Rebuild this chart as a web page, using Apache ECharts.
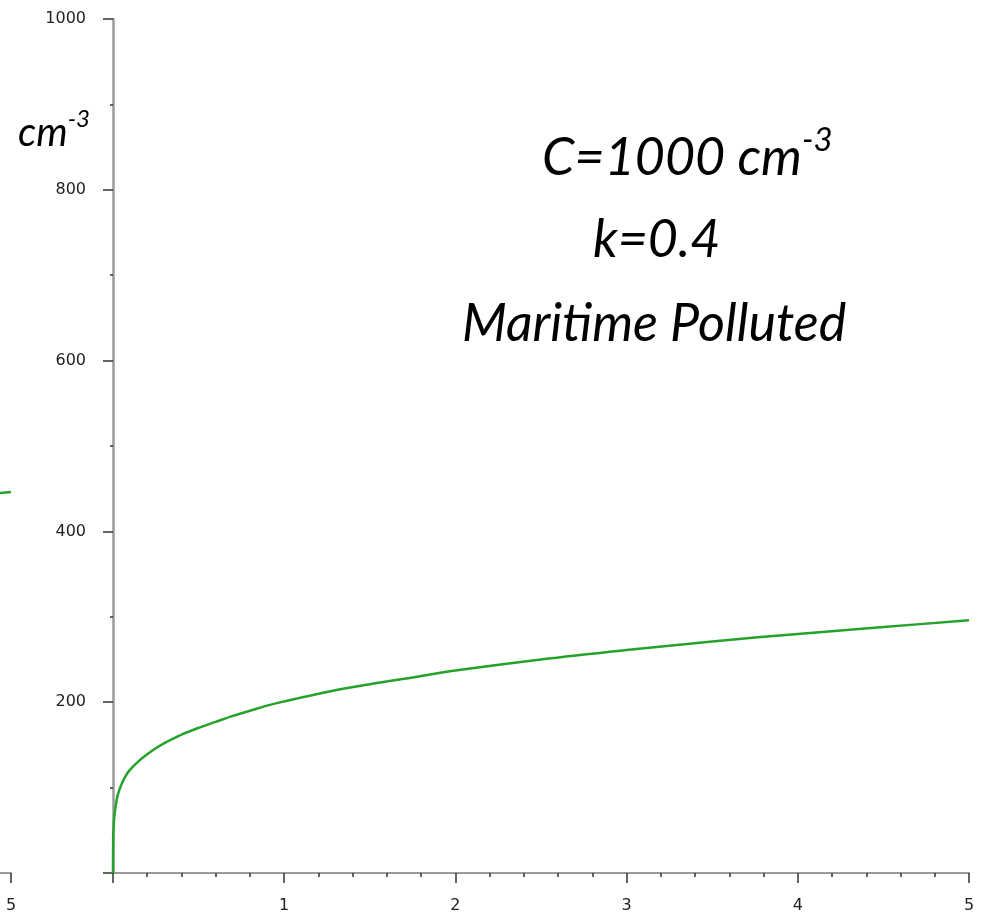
<!DOCTYPE html>
<html>
<head>
<meta charset="utf-8">
<script src="https://cdn.jsdelivr.net/npm/echarts@6/dist/echarts.min.js"></script>
<style>
  html, body { margin: 0; padding: 0; background: #fff; }
  #main { width: 991px; height: 915px; }
</style>
</head>
<body>
<div id="main"></div>
<script>
// supersaturation (%) vs. activated CCN (cm^-3)
var supersat = [0, 0.001, 0.003, 0.006, 0.01, 0.02, 0.03, 0.05, 0.075, 0.1, 0.15, 0.2, 0.25, 0.3, 0.4, 0.5, 0.6, 0.7, 0.8, 0.9, 1.0, 1.25, 1.5, 1.75, 2.0, 2.5, 3.0, 3.5, 4.0, 4.5, 5.0]
var ccn = [0, 40, 52, 62, 70, 84, 93, 104, 114, 121, 131, 139, 146, 152, 162, 170, 177, 184, 190, 196, 201, 212, 221, 229, 237, 250, 261, 271, 280, 288, 296]

// piece of the neighbouring panel that shows at the left edge
var leftX = [4.9, 5]
var leftY = [445, 446]

var xTicks = [0, 1, 2, 3, 4, 5]
var yTicks = [0, 200, 400, 600, 800, 1000]

var green = '#25a22b'
var axisGray = '#9a9a9a'
var tickDark = '#333'
var labelFont = { color: '#222', fontSize: 16, fontFamily: 'DejaVu Sans' }
var plain = function (v) { return String(v) }

var myChart = echarts.init(document.getElementById('main'))

myChart.setOption({
  animation: false,
  grid: [
    { left: 113, right: 22, top: 19, bottom: 42 },
    { left: 0, width: 11, top: 19, bottom: 42 }
  ],
  xAxis: [
    {
      type: 'value',
      gridIndex: 0,
      min: xTicks[0],
      max: xTicks[xTicks.length - 1],
      interval: 1,
      axisLine: { show: true, onZero: false, lineStyle: { color: axisGray, width: 2 } },
      axisTick: { show: true, length: 10, lineStyle: { color: tickDark, width: 1.5 } },
      minorTick: { show: true, splitNumber: 5, length: 4, lineStyle: { color: tickDark, width: 1.5 } },
      splitLine: { show: false },
      axisLabel: Object.assign({ margin: 25, showMinLabel: false, formatter: plain }, labelFont)
    },
    {
      type: 'value',
      gridIndex: 1,
      min: leftX[0],
      max: leftX[1],
      interval: 0.1,
      axisLine: { show: true, onZero: false, lineStyle: { color: axisGray, width: 2 } },
      axisTick: { show: true, length: 10, customValues: [5], lineStyle: { color: tickDark, width: 1.5 } },
      splitLine: { show: false },
      axisLabel: Object.assign({ margin: 25, customValues: [5], formatter: plain }, labelFont)
    }
  ],
  yAxis: [
    {
      type: 'value',
      gridIndex: 0,
      min: yTicks[0],
      max: yTicks[yTicks.length - 1],
      interval: 200,
      axisLine: { show: true, onZero: false, lineStyle: { color: axisGray, width: 2.5 } },
      axisTick: { show: true, length: 10, lineStyle: { color: tickDark, width: 1.5 } },
      minorTick: { show: true, splitNumber: 2, length: 3, lineStyle: { color: tickDark, width: 1.5 } },
      splitLine: { show: false },
      axisLabel: Object.assign({ margin: 27, showMinLabel: false, formatter: plain }, labelFont)
    },
    {
      type: 'value',
      gridIndex: 1,
      show: false,
      min: 0,
      max: 1000
    }
  ],
  series: [
    {
      type: 'line',
      xAxisIndex: 0,
      yAxisIndex: 0,
      smooth: 0.35,
      symbol: 'none',
      lineStyle: { color: green, width: 2.5 },
      data: supersat.map(function (s, i) { return [s, ccn[i]] })
    },
    {
      type: 'line',
      xAxisIndex: 1,
      yAxisIndex: 1,
      symbol: 'none',
      lineStyle: { color: green, width: 2.5 },
      data: leftX.map(function (s, i) { return [s, leftY[i]] })
    }
  ],
  graphic: [
    {
      type: 'text',
      left: 18,
      top: 107,
      style: {
        text: '{b|cm}{s|-3}',
        rich: {
          b: { fontSize: 40, fontStyle: 'italic', fontFamily: 'Lato', fill: '#000', verticalAlign: 'bottom', lineHeight: 46 },
          s: { fontSize: 24, fontStyle: 'italic', fontFamily: 'Lato', fill: '#000', verticalAlign: 'top', lineHeight: 24 }
        }
      }
    },
    {
      type: 'text',
      left: 542,
      top: 124,
      style: {
        text: '{b|C=1000 cm}{s|-3}',
        rich: {
          b: { fontSize: 52, fontStyle: 'italic', fontFamily: 'Lato', fill: '#000', verticalAlign: 'bottom', lineHeight: 60 },
          s: { fontSize: 33, fontStyle: 'italic', fontFamily: 'Lato', fill: '#000', verticalAlign: 'top', lineHeight: 33 }
        }
      }
    },
    {
      type: 'text',
      left: 593,
      top: 214,
      style: { text: 'k=0.4', fontSize: 52, fontStyle: 'italic', fontFamily: 'Lato', fill: '#000' }
    },
    {
      type: 'text',
      left: 462,
      top: 298,
      style: { text: 'Maritime Polluted', fontSize: 52, fontStyle: 'italic', fontFamily: 'Lato', fill: '#000' }
    }
  ]
})
</script>
</body>
</html>
